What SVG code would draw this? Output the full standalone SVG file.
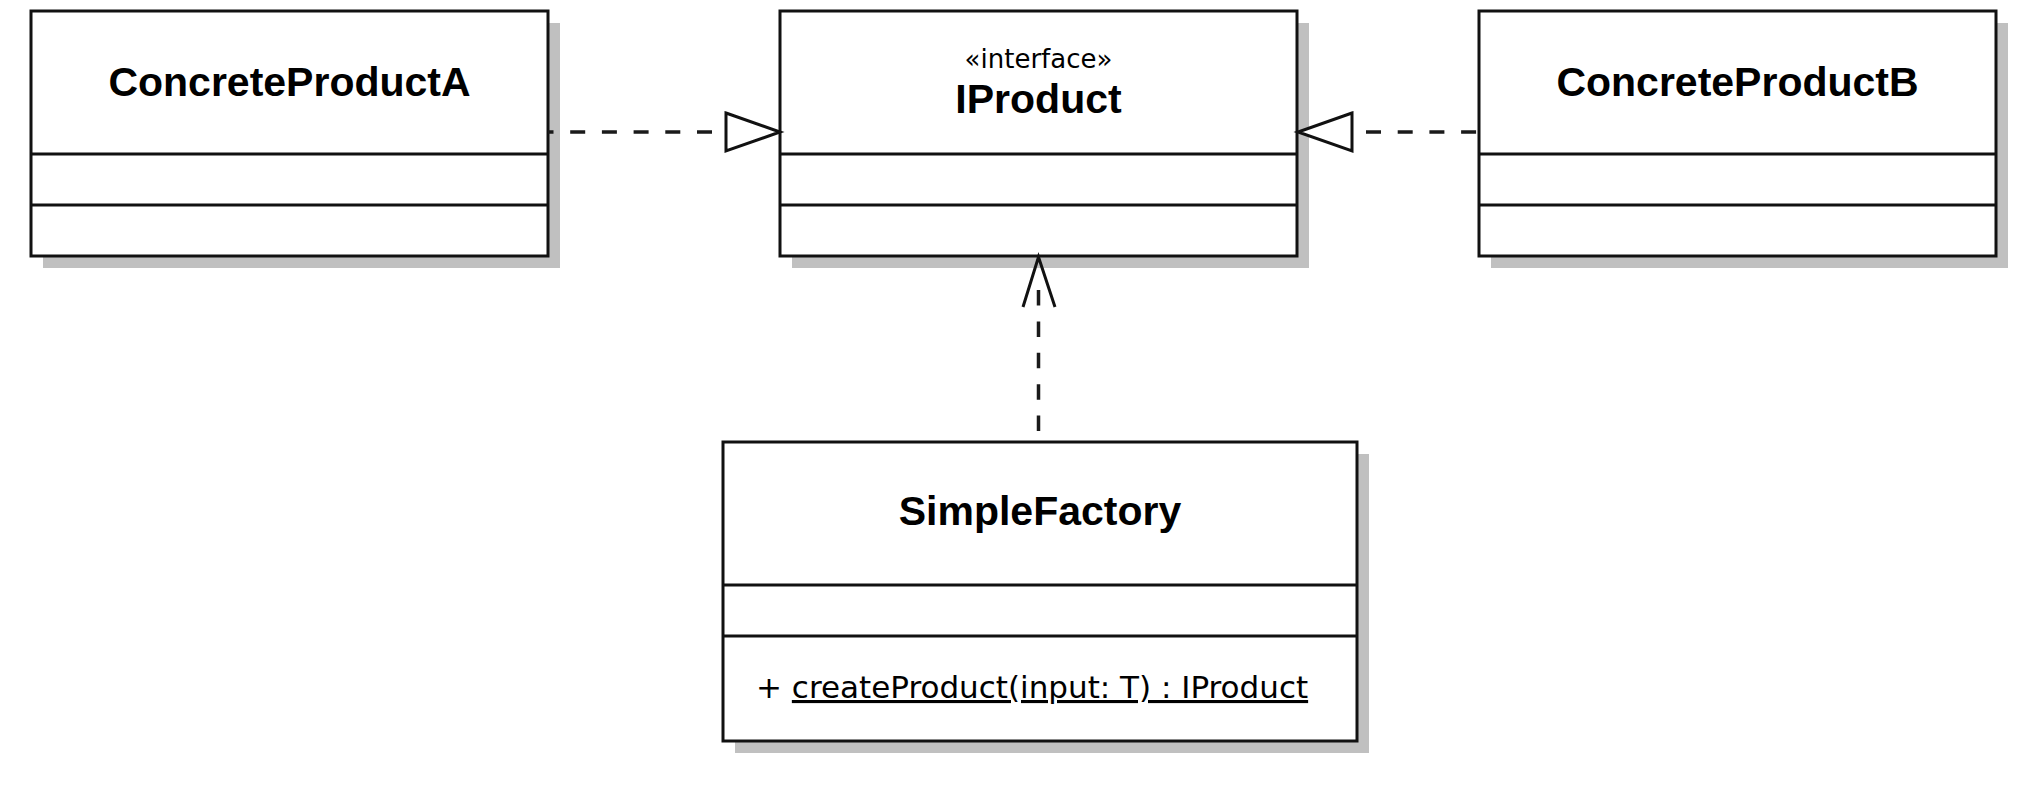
<svg xmlns="http://www.w3.org/2000/svg" width="2044" height="794" viewBox="0 0 2044 794">
<defs>
<style>
.shadow{fill:#c0c0c0;stroke:none}
.box{fill:#ffffff;stroke:#111111;stroke-width:3}
.div{stroke:#111111;stroke-width:3}
.title{font-family:"Liberation Sans",Arial,sans-serif;font-weight:bold;font-size:41px;fill:#000000;text-anchor:middle}
.stereo{font-family:"DejaVu Sans",sans-serif;font-size:26px;fill:#000000;text-anchor:middle}
.op{font-family:"DejaVu Sans",sans-serif;font-size:31px;fill:#000000}
.dash{stroke:#1a1a1a;stroke-width:3.5;fill:none;stroke-dasharray:15 16.7}
.head{stroke:#111111;stroke-width:3;fill:#ffffff;stroke-linejoin:miter}
.open{stroke:#111111;stroke-width:3;fill:none}
</style>
</defs>
<rect width="2044" height="794" fill="#ffffff"/>
<g id="ConcreteProductA">
<rect class="shadow" x="43" y="23" width="517" height="245"/>
<rect class="box" x="31" y="11" width="517" height="245"/>
<line class="div" x1="31" y1="154" x2="548" y2="154"/>
<line class="div" x1="31" y1="205" x2="548" y2="205"/>
<text class="title" x="289.5" y="96">ConcreteProductA</text>
</g>
<g id="IProduct">
<rect class="shadow" x="792" y="23" width="517" height="245"/>
<rect class="box" x="780" y="11" width="517" height="245"/>
<line class="div" x1="780" y1="154" x2="1297" y2="154"/>
<line class="div" x1="780" y1="205" x2="1297" y2="205"/>
<text class="stereo" x="1038.5" y="68">«interface»</text>
<text class="title" x="1038.5" y="113">IProduct</text>
</g>
<g id="ConcreteProductB">
<rect class="shadow" x="1491" y="23" width="517" height="245"/>
<rect class="box" x="1479" y="11" width="517" height="245"/>
<line class="div" x1="1479" y1="154" x2="1996" y2="154"/>
<line class="div" x1="1479" y1="205" x2="1996" y2="205"/>
<text class="title" x="1737.5" y="96">ConcreteProductB</text>
</g>
<g id="SimpleFactory">
<rect class="shadow" x="735" y="454" width="634" height="299"/>
<rect class="box" x="723" y="442" width="634" height="299"/>
<line class="div" x1="723" y1="585" x2="1357" y2="585"/>
<line class="div" x1="723" y1="636" x2="1357" y2="636"/>
<text class="title" x="1040" y="525">SimpleFactory</text>
<text class="op" x="756" y="698">+ <tspan text-decoration="underline" style="text-decoration:underline">createProduct(input: T) : IProduct</tspan></text>
</g>
<g id="connectors">
<line class="dash" x1="726" y1="132" x2="548" y2="132" style="stroke-dashoffset:17.7"/>
<polygon class="head" points="726,113 780,132 726,151"/>
<line class="dash" x1="1352" y1="132" x2="1479" y2="132" style="stroke-dashoffset:17.7"/>
<polygon class="head" points="1352,113 1298,132 1352,151"/>
<line class="dash" x1="1038.5" y1="290" x2="1038.5" y2="442" style="stroke-dasharray:15.5 15.9"/>
<polyline class="open" points="1023,307 1038.5,257 1055,307"/>
</g>
</svg>
